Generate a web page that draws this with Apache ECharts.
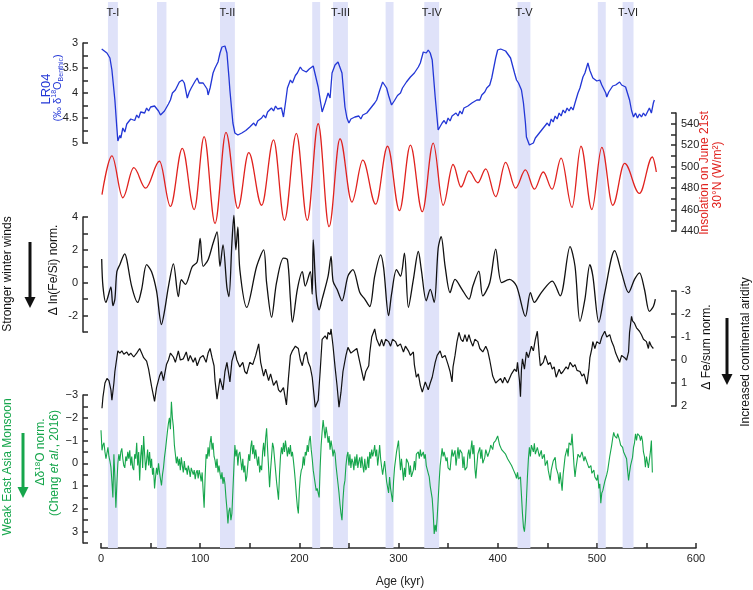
<!DOCTYPE html>
<html><head><meta charset="utf-8">
<script src="https://cdn.jsdelivr.net/npm/echarts@6/dist/echarts.min.js"></script>
<style>html,body{margin:0;padding:0;background:#fff}#c{width:753px;height:590px}</style>
</head><body><div id="c"></div>
<script>
// ---- data (age kyr, value) ----
const bandStart = [7, 56.5, 120, 213, 234, 287, 326, 420, 501, 526];
const bandEnd   = [17, 66, 135, 221, 249, 295, 341, 433, 509, 537];
const bandLabel = ['T-I', '', 'T-II', '', 'T-III', '', 'T-IV', 'T-V', '', 'T-VI'];

const lr04 = [[0.7,3.12],[6,3.2],[9,3.3],[11,3.54],[14,4.14],[16,4.7],[17,4.96],[19,4.85],[20,4.9],[22,4.7],[24,4.78],[26,4.62],[28,4.66],[30,4.52],[32,4.48],[34,4.55],[36,4.44],[38,4.5],[40,4.38],[42,4.34],[44,4.4],[46,4.3],[48,4.36],[50,4.28],[52,4.3],[54,4.26],[56,4.28],[58,4.36],[60,4.44],[62,4.48],[64,4.36],[66,4.4],[68,4.22],[70,4.14],[72,4.0],[74,4.04],[75,3.94],[77,3.9],[79,3.78],[82,3.74],[84,3.8],[86,4.0],[87,4.1],[89,3.98],[91,3.9],[93,3.88],[95,3.76],[97,3.7],[99,3.8],[101,3.76],[103,3.8],[105,3.86],[107,3.92],[108,4.04],[110,3.9],[112,3.7],[113,3.6],[115,3.5],[118,3.38],[120,3.2],[122,3.08],[125,3.06],[127,3.2],[129,3.68],[130,3.95],[133,4.6],[135,4.8],[138,4.84],[140,4.88],[142,4.8],[144,4.84],[146,4.75],[148,4.78],[150,4.68],[152,4.72],[154,4.6],[156,4.66],[158,4.56],[160,4.6],[162,4.5],[164,4.44],[166,4.5],[168,4.38],[170,4.42],[172,4.3],[174,4.36],[176,4.26],[178,4.32],[180,4.35],[182,4.3],[184,4.48],[186,4.2],[188,3.9],[191,3.74],[193,3.8],[196,3.65],[198,3.6],[201,3.48],[203,3.54],[205,3.5],[207,3.58],[210,3.52],[212,3.5],[214,3.46],[216,3.44],[219,3.88],[223,4.38],[226,4.2],[229,4.0],[231,4.1],[233,3.6],[236,3.44],[239,3.38],[243,3.6],[246,4.28],[248,4.5],[250,4.6],[252,4.52],[254,4.56],[256,4.48],[258,4.52],[260,4.46],[262,4.52],[264,4.44],[266,4.48],[268,4.4],[270,4.36],[272,4.3],[274,4.28],[276,4.2],[278,4.14],[281,3.95],[284,3.78],[286,3.82],[288,3.9],[290,4.05],[293,4.24],[296,4.15],[299,4.05],[302,4.0],[304,3.9],[306,3.94],[308,3.78],[310,3.82],[312,3.68],[314,3.72],[316,3.6],[318,3.62],[320,3.48],[322,3.4],[325,3.18],[328,3.2],[330,3.14],[332,3.2],[334,3.34],[337,4.08],[340,4.74],[342,4.74],[344,4.6],[346,4.55],[348,4.62],[350,4.5],[352,4.56],[354,4.46],[356,4.5],[358,4.4],[360,4.46],[362,4.36],[364,4.42],[366,4.3],[368,4.34],[370,4.26],[372,4.3],[374,4.2],[376,4.24],[379,4.14],[382,4.14],[384,4.04],[387,3.98],[389,3.9],[392,3.84],[394,3.7],[396,3.5],[398,3.3],[400,3.14],[403,3.12],[405,3.08],[408,3.16],[410,3.14],[413,3.3],[415,3.45],[417,3.6],[419,3.74],[421,3.8],[424,3.94],[426,4.2],[428,4.6],[429,4.88],[432,5.04],[434,5.02],[436,5.0],[438,4.9],[440,4.94],[442,4.8],[444,4.84],[446,4.7],[448,4.74],[450,4.6],[452,4.66],[454,4.52],[456,4.58],[458,4.46],[460,4.52],[462,4.4],[464,4.46],[466,4.34],[468,4.4],[470,4.3],[472,4.36],[474,4.28],[476,4.34],[478,4.2],[481,4.0],[483,3.9],[486,3.68],[488,3.6],[491,3.4],[493,3.55],[496,3.7],[498,3.66],[500,3.76],[503,3.74],[505,3.84],[507,3.85],[509,4.0],[510,4.08],[512,3.98],[514,3.95],[516,3.86],[517,3.9],[519,3.84],[521,3.8],[523,3.78],[525,3.84],[527,3.8],[529,3.88],[531,3.9],[533,4.14],[535,4.35],[537,4.48],[539,4.4],[541,4.5],[543,4.42],[545,4.48],[547,4.4],[549,4.46],[551,4.38],[553,4.3],[555,4.4],[557,4.2],[558,4.14]];

const insolation = [[1,474],[11,510],[22,471],[33,499],[45,480],[59,505],[70,463],[82,517],[94,460],[104,528],[115,447],[126,532],[138,461],[149,513],[162,464],[174,525],[185,450],[197,531],[208,450],[219,540],[230,444],[241,526],[253,467],[264,506],[277,465],[289,519],[301,459],[312,520],[324,458],[335,522],[345,464],[355,502],[363,481],[371,496],[380,485],[388,498],[398,472],[408,504],[418,480],[428,497],[437,479],[446,495],[455,479],[464,508],[475,462],[484,519],[495,460],[505,518],[516,464],[528,503],[543,475],[556,509],[560,495]];

const feSi = [[0.7,1.45],[2,-0.24],[5,-1.2],[7,-0.85],[10,-0.25],[12,-1.4],[14,-1.0],[16,0.67],[19,1.1],[24,1.76],[26,1.4],[31,-0.24],[37,-1.2],[41,-0.4],[46,1.1],[51,0.67],[56,-0.5],[61,-2.55],[64,-1.75],[68,-0.24],[73,1.15],[78,-0.85],[81,0.18],[85,-0.1],[92,0.97],[97,1.27],[100,2.7],[103,1.0],[108,1.4],[113,2.4],[117,3.1],[120,1.0],[123,2.3],[127,-0.3],[129,-0.85],[132,2.4],[134,4.1],[136,2.0],[138,3.4],[140,0.8],[147,-1.5],[157,1.0],[164,2.0],[167,0],[172,-2.1],[177,0],[184,1.5],[188,1.4],[191,-1.0],[193,-2.4],[198,-0.4],[203,0.67],[206,-0.2],[211,0.67],[213,-0.7],[214,2.6],[217,-0.7],[220,-1.65],[223,-1.0],[229,0.4],[232,1.6],[234,0.1],[238,-0.4],[243,-1.1],[249,0.4],[254,0.8],[261,-0.6],[266,-1.0],[271,-1.45],[276,0.4],[282,1.7],[285,0.9],[290,-2.0],[293,-0.7],[298,0.8],[302,0.4],[306,1.8],[310,-1.5],[315,0.2],[320,1.9],[323,0.8],[328,-1.1],[332,-0.4],[336,-1.2],[340,2.1],[343,2.8],[347,1.0],[352,-0.6],[357,0.2],[364,-0.4],[371,-1.0],[375,-0.2],[381,0.7],[385,-0.8],[392,0],[398,2.05],[404,0],[412,0.2],[419,-0.2],[428,-2.05],[433,-0.6],[437,-1.2],[444,-0.6],[455,0.1],[463,-0.8],[473,2.2],[478,1.0],[483,-2.35],[488,-1.0],[493,1.1],[496,0.4],[502,-2.4],[508,-0.6],[518,1.95],[525,0.6],[532,-0.6],[538,0.2],[543,0.6],[548,-0.4],[553,-1.75],[557,-1.45],[559,-1.0]];

const feSum = [[1,2.1],[2,1.6],[4,1.0],[6,0.8],[8,0.9],[10,1.3],[11,1.75],[13,1.0],[14,0.5],[16,-0.1],[17,-0.4],[19,-0.3],[21,-0.4],[23,-0.25],[26,-0.35],[28,-0.2],[30,-0.3],[33,-0.13],[36,-0.3],[39,-0.5],[41,-0.3],[43,-0.1],[46,0.05],[48,0.4],[51,1.15],[54,1.8],[56,1.2],[59,0.7],[61,0.5],[63,0.9],[66,0.2],[68,0.0],[70,-0.3],[73,-0.13],[75,0.1],[78,-0.4],[80,0.0],[83,-0.05],[86,-0.35],[88,0.05],[90,-0.2],[93,0.1],[95,-0.1],[97,0.25],[100,-0.1],[103,-0.2],[106,0.1],[108,-0.3],[110,-0.5],[112,-0.1],[114,0.25],[115,0.9],[117,1.7],[120,0.8],[123,1.3],[125,0.5],[127,0.1],[130,0.95],[132,0.05],[135,-0.4],[137,0.0],[140,0.3],[143,0.1],[145,0.5],[147,0.6],[150,0.1],[153,0.2],[156,-0.2],[159,-0.7],[161,0.1],[164,0.7],[166,0.4],[169,0.9],[171,0.6],[174,1.1],[177,0.9],[179,1.3],[181,1.4],[184,1.2],[187,1.95],[189,0.8],[191,-0.2],[193,-0.4],[196,-0.6],[199,-0.5],[201,0.0],[203,0.25],[205,-0.2],[207,-0.35],[209,0.1],[211,0.3],[213,0.75],[216,2.05],[219,1.75],[221,0.5],[223,-0.9],[226,-1.05],[228,-0.9],[229,-1.2],[231,-1.1],[232,-1.35],[234,-0.6],[236,0.3],[238,1.1],[240,2.05],[242,1.4],[244,0.5],[247,-0.2],[249,-0.55],[252,-0.3],[255,-0.4],[258,-0.5],[261,0.1],[263,0.5],[265,0.9],[267,0.5],[270,0.25],[271,-0.3],[273,-1.0],[276,-1.35],[278,-0.9],[281,-0.6],[283,-0.9],[285,-0.6],[287,-0.9],[290,-0.8],[292,-0.6],[294,-0.9],[297,-0.8],[299,-0.6],[302,-0.7],[305,-0.35],[307,-0.6],[310,-0.4],[312,-0.2],[315,-0.35],[316,0.2],[318,0.75],[320,0.6],[322,1.1],[324,1.4],[327,0.95],[330,1.3],[332,1.0],[334,0.75],[337,0.1],[339,-0.2],[342,-0.4],[344,-0.1],[347,-0.2],[350,0.2],[352,0.5],[354,0.95],[355,0.3],[357,-0.2],[359,-0.8],[361,-1.2],[363,-0.9],[365,-0.8],[367,-1.1],[369,-0.8],[371,-1.1],[373,-0.8],[375,-0.6],[377,-0.9],[380,-0.8],[382,-0.5],[385,-0.35],[388,-0.6],[390,-0.4],[392,0.0],[395,0.7],[398,1.0],[400,1.05],[403,0.8],[405,1.0],[407,0.75],[410,1.0],[412,0.95],[414,0.6],[417,0.4],[419,0.5],[420,0.1],[422,0.9],[423,1.6],[424,0.4],[425,-0.05],[427,0.4],[429,-0.35],[431,-0.1],[434,-0.6],[436,-0.4],[438,-0.9],[440,-1.25],[442,-0.2],[443,0.25],[446,0.1],[448,-0.2],[451,0.2],[453,0.1],[455,0.4],[457,0.3],[459,0.75],[462,0.4],[464,0.6],[466,0.5],[469,0.3],[471,0.4],[473,0.1],[476,0.3],[478,0.2],[480,0.45],[483,0.5],[485,0.7],[487,0.6],[490,1.05],[492,0.4],[493,-0.1],[495,-0.5],[496,-0.8],[498,-0.5],[500,-0.8],[503,-0.7],[505,-1.0],[508,-1.25],[510,-1.0],[513,-1.1],[515,-0.8],[517,-0.6],[519,-0.3],[521,-0.1],[523,0.1],[525,-0.2],[528,-0.1],[530,0.0],[532,-0.35],[533,-1.2],[535,-1.9],[536,-1.7],[538,-1.6],[540,-1.4],[543,-1.25],[545,-1.1],[547,-0.9],[550,-0.8],[552,-0.5],[553,-0.8],[555,-0.6],[557,-0.5]];

const d18O = [[0,-1.45],[1,-0.57],[2,-0.8],[3,-0.9],[4,-0.5],[5,-0.2],[6,-0.45],[7,-0.7],[8,-0.3],[9,-0.1],[10,0.17],[11,0.8],[12,1.5],[13,-0.4],[14,0.6],[15,1.95],[16,0.9],[17,0],[18,-0.4],[19,-0.1],[20,-0.5],[21,-0.66],[22,-0.2],[23,0.1],[24,0.2],[25,-0.3],[26,-0.1],[27,-0.5],[28,-0.2],[29,-0.57],[30,0.1],[31,-0.3],[32,0.2],[33,0.3],[34,-0.4],[35,-0.2],[36,-0.9],[37,0.1],[38,-0.5],[39,0.75],[40,-0.3],[41,-0.8],[42,0.2],[43,-1.2],[44,-0.4],[45,0.3],[46,-0.13],[47,-0.6],[48,0.1],[49,-0.5],[50,0.2],[51,-0.2],[52,0.5],[53,0.2],[54,1.1],[55,0.6],[56,0.2],[57,0.5],[58,0],[59,0.4],[60,0.7],[61,0.97],[62,0.5],[63,0.2],[64,-0.26],[65,-0.6],[66,-1.0],[67,-1.4],[68,-1.76],[69,-2.0],[70,-1.5],[71,-2.7],[72,-2.0],[73,-1.6],[74,-0.8],[75,-0.4],[76,0],[77,-0.3],[78,0.1],[79,-0.2],[80,0.3],[81,-0.26],[82,0.1],[83,0.4],[84,-0.1],[85,0.3],[86,0.2],[87,0.5],[88,0.1],[89,0.3],[90,0.6],[91,0.2],[92,0.17],[93,0.5],[94,0.3],[95,0.7],[96,0.4],[97,0.3],[98,0.66],[99,0.3],[100,0.5],[101,0.8],[102,0.4],[103,1.2],[104,1.95],[105,0.6],[106,-0.4],[107,-0.2],[108,-0.7],[109,-0.3],[110,-0.9],[111,-1.2],[112,-0.6],[113,-0.9],[114,-0.3],[115,-0.13],[116,0.2],[117,-0.2],[118,0.4],[119,0.1],[120,0.44],[121,0.7],[122,0.4],[123,0.9],[124,0.6],[125,0.9],[126,1.5],[127,2.0],[128,2.64],[129,2.1],[130,1.95],[131,2.5],[132,2.2],[133,1.2],[134,0.2],[135,-0.8],[136,-0.3],[137,-0.6],[138,0.1],[139,-0.4],[140,-0.5],[141,-0.1],[142,0.3],[143,-0.2],[144,0.4],[145,0.1],[146,0.8],[147,0.6],[148,0.1],[149,-0.4],[150,-0.1],[151,-0.7],[152,-1.0],[153,-0.4],[154,-0.8],[155,-0.2],[156,-0.6],[157,-0.57],[158,0.1],[159,-0.3],[160,0.4],[161,0.1],[162,0.3],[163,-0.5],[164,-0.9],[165,-0.3],[166,-1.1],[167,-1.54],[168,-0.6],[169,0.2],[170,1.05],[171,0.3],[172,-0.3],[173,-0.9],[174,-0.7],[175,-0.2],[176,0.3],[177,0.8],[178,1.2],[179,1.6],[180,0.5],[181,-0.3],[182,-0.7],[183,-0.4],[184,-0.9],[185,-0.5],[186,-1.0],[187,-0.66],[188,-0.3],[189,-0.7],[190,-0.4],[191,-0.8],[192,-0.3],[193,-0.5],[194,-0.13],[195,0.3],[196,0.8],[197,1.4],[198,1.9],[199,2.2],[200,1.2],[201,0.6],[202,0.3],[203,0.2],[204,-0.3],[205,0.1],[206,-0.5],[207,-0.35],[208,-0.8],[209,-0.5],[210,-1.0],[211,-1.2],[212,-0.6],[213,-0.2],[214,0.3],[215,0.6],[216,0.9],[217,1.2],[218,1.1],[219,1.3],[220,1.5],[221,0.17],[222,-0.8],[223,-1.4],[224,-1.9],[225,-1.5],[226,-1.1],[227,-1.6],[228,-1.3],[229,-0.9],[230,-1.2],[231,-0.6],[232,-1.0],[233,-0.7],[234,-0.3],[235,-0.6],[236,-0.44],[237,0.1],[238,0.5],[239,0.9],[240,1.3],[241,1.8],[242,2.2],[243,2.5],[244,1.6],[245,1.0],[246,0.75],[247,0.1],[248,-0.3],[249,-0.5],[250,0.1],[251,-0.4],[252,0.2],[253,-0.2],[254,-0.05],[255,0.3],[256,-0.3],[257,0.1],[258,-0.4],[259,0.2],[260,-0.1],[261,-0.26],[262,0.2],[263,-0.3],[264,0.1],[265,0.4],[266,-0.2],[267,0.3],[268,0.17],[269,-0.3],[270,0.2],[271,-0.5],[272,-0.2],[273,-0.6],[274,-0.3],[275,-0.5],[276,-0.8],[277,-0.3],[278,-0.6],[279,0.1],[280,-0.3],[281,-0.8],[282,-0.2],[283,0.17],[284,0.5],[286,-0.1],[288,0.8],[290,1.3],[291,0.6],[292,1.1],[294,1.7],[295,0.8],[296,0.2],[298,-0.5],[300,-1.0],[301,-0.3],[302,0.3],[303,-0.2],[305,0.75],[306,0.2],[307,0.6],[308,-0.2],[310,0],[311,0.5],[312,0.1],[313,0.6],[315,0.3],[316,-0.1],[317,0.3],[318,-0.4],[320,-0.5],[321,-0.2],[322,-0.6],[323,-0.3],[325,-0.5],[326,-0.2],[327,-0.4],[328,0.1],[330,0.44],[331,0.6],[332,1.0],[334,1.55],[335,2.2],[336,3.1],[337,2.7],[338,3.0],[339,2.4],[340,1.6],[341,0.8],[342,0.1],[344,-0.66],[345,-0.3],[346,-0.5],[348,-0.1],[349,-0.26],[350,0.2],[352,0.3],[353,-0.2],[354,-0.6],[355,-0.3],[357,-0.57],[358,0.1],[359,-0.3],[360,-0.7],[361,-0.2],[362,-0.6],[364,-0.44],[365,0.2],[366,-0.3],[367,0.3],[369,0.17],[370,-0.4],[371,-0.6],[372,-0.2],[374,-1.0],[375,-0.4],[376,-0.8],[377,0.2],[378,0.66],[379,0.1],[380,-0.4],[382,-0.7],[383,-0.2],[384,-0.6],[385,0.0],[387,-0.26],[388,-0.6],[390,-0.3],[392,-0.57],[393,-0.8],[395,-0.6],[396,-0.9],[398,-1.0],[400,-1.2],[401,-1.0],[402,-0.8],[404,-0.6],[406,-0.57],[408,-0.4],[410,-0.2],[412,-0.13],[414,0.1],[416,0.3],[418,0.5],[419,0.66],[420,0.4],[421,0.7],[423,0.6],[424,1.4],[425,2.2],[426,2.8],[427,3.0],[428,2.5],[429,1.6],[430,0.6],[431,-0.2],[432,-0.7],[433,-0.3],[434,-0.8],[436,-0.5],[437,-0.88],[438,-0.4],[440,-0.7],[442,-0.3],[444,-0.57],[445,-0.2],[447,-0.4],[448,0.1],[450,-0.13],[451,0.3],[453,0.75],[454,0.3],[456,-0.1],[458,-0.26],[459,0.2],[461,0.5],[462,0.9],[463,0.4],[465,1.2],[466,0.5],[467,0.1],[468,-0.3],[470,-0.66],[471,-0.3],[472,-0.9],[474,-0.8],[475,-1.3],[476,-0.6],[477,0.1],[478,0.6],[479,0.2],[481,-0.4],[483,-0.26],[485,-0.5],[487,-0.1],[488,-0.3],[490,-0.05],[492,0.2],[494,0.1],[495,0.44],[497,0.3],[498,0.6],[500,0.75],[501,0.5],[502,1.1],[503,0.9],[504,1.75],[505,1.3],[506,1.2],[508,0.8],[510,0.5],[511,0.3],[513,-0.3],[515,-0.8],[516,-1.1],[517,-1.36],[518,-1.2],[520,-1.1],[521,-1.3],[523,-1.0],[524,-0.8],[526,-0.7],[527,-0.5],[529,-0.44],[530,-0.2],[531,0.3],[532,0.75],[533,0.4],[534,0.1],[536,-0.26],[537,-0.7],[538,-0.9],[539,-1.3],[540,-1.0],[541,-1.3],[543,-1.2],[544,-1.0],[545,-1.2],[546,-1.0],[547,-0.5],[548,-0.3],[549,0.17],[550,-0.3],[551,-0.26],[552,0.2],[553,0.17],[554,-0.5],[555,-1.0],[556,0.4]];

const xTicks = [0, 100, 200, 300, 400, 500, 600];

// ---- chart ----
const FONT = '"Liberation Sans", Arial, sans-serif';
const BLUE = '#2236d6', RED = '#e0221e', GREEN = '#16a64c', BLACK = '#111111', AX = '#2a2a2a';
const L = 101, R = 57;
const grids = [
  { left: L, right: R, top: 43, height: 100 },
  { left: L, right: R, top: 113, height: 118 },
  { left: L, right: R, top: 217, height: 115 },
  { left: L, right: R, top: 291, height: 115 },
  { left: L, right: R, top: 395, height: 148 },
  { left: L, right: R, top: 2, height: 546 }
];
const xAxes = grids.map((g, i) => ({
  gridIndex: i, type: 'value', min: 0, max: 600, interval: 50,
  show: i === 4, offset: 5,
  axisLine: { onZero: false, lineStyle: { color: AX, width: 1.5 } },
  axisTick: { inside: true, length: 5, lineStyle: { color: AX, width: 1.5 } },
  axisLabel: { margin: 5, fontSize: 11, color: '#222', fontFamily: FONT,
    formatter: v => xTicks.indexOf(v) >= 0 ? String(v) : '' },
  splitLine: { show: false }
}));
function yAx(o) {
  return Object.assign({
    type: 'value', splitLine: { show: false },
    axisLine: { show: true, onZero: false, lineStyle: { color: AX, width: 1.5 } },
    axisTick: { show: true, inside: true, length: 5, lineStyle: { color: AX, width: 1.5 } },
    axisLabel: { margin: 5, fontSize: 11, color: '#222', fontFamily: FONT, hideOverlap: false }
  }, o);
}
function lab(fmt) {
  return { margin: 5, fontSize: 11, color: '#222', fontFamily: FONT, hideOverlap: false, formatter: fmt };
}
const yAxes = [
  yAx({ gridIndex: 0, min: 3, max: 5, inverse: true, interval: 0.25, position: 'left', offset: 18,
    axisLabel: lab(v => (Math.round(v * 4) % 2 === 0) ? String(v) : '') }),
  yAx({ gridIndex: 1, min: 440, max: 550, interval: 10, position: 'right', offset: -20,
    axisLabel: lab(v => ((v - 440) % 20 === 0 && v < 550) ? String(v) : '') }),
  yAx({ gridIndex: 2, min: -3, max: 4, interval: 1, position: 'left', offset: 18,
    axisLabel: lab(v => (v % 2 === 0) ? String(v) : '') }),
  yAx({ gridIndex: 3, min: -3, max: 2, inverse: true, interval: 1, position: 'right', offset: -20,
    axisLabel: lab(v => String(v)) }),
  yAx({ gridIndex: 4, min: -3, max: 3.5, inverse: true, interval: 0.5, position: 'left', offset: 18,
    axisLabel: lab(v => Number.isInteger(v) ? (v < 0 ? '\u2212' + (-v) : String(v)) : '') }),
  { gridIndex: 5, type: 'value', min: 0, max: 1, show: false }
];

function lineSeries(idx, data, color, extra) {
  return Object.assign({
    type: 'line', xAxisIndex: idx, yAxisIndex: idx, data: data,
    showSymbol: false, clip: false, z: 3,
    lineStyle: { color: color, width: 1.3 }
  }, extra || {});
}

const series = [
  {
    type: 'line', xAxisIndex: 5, yAxisIndex: 5, data: [[0, 0]], showSymbol: false,
    lineStyle: { opacity: 0 }, z: 1, silent: true,
    markArea: {
      silent: true,
      itemStyle: { color: '#dfe2f9' },
      label: { show: true, position: 'insideTop', distance: 5, color: '#222', fontSize: 11, fontFamily: FONT },
      data: bandStart.map((s, i) => [{ xAxis: s, name: bandLabel[i] }, { xAxis: bandEnd[i] }])
    }
  },
  lineSeries(0, lr04, BLUE),
  lineSeries(1, insolation, RED, { smooth: 0.36, smoothMonotone: 'x' }),
  lineSeries(2, feSi, BLACK, { smooth: 0.3 }),
  lineSeries(3, feSum, BLACK, { lineStyle: { color: BLACK, width: 1.2 } }),
  lineSeries(4, d18O, GREEN, { lineStyle: { color: GREEN, width: 1.1 } })
];

function vText(x, y, text, color, size, rich) {
  return {
    type: 'text', x: x, y: y, rotation: Math.PI / 2, z: 10,
    style: { text: text, fill: color, fontSize: size, fontFamily: FONT,
      align: 'center', verticalAlign: 'middle', rich: rich || {} }
  };
}
function arrow(x, y1, y2, color) {
  return {
    type: 'group', z: 10, children: [
      { type: 'line', shape: { x1: x, y1: y1, x2: x, y2: y2 - 9 }, style: { stroke: color, lineWidth: 3 } },
      { type: 'polygon', shape: { points: [[x - 5.5, y2 - 11], [x + 5.5, y2 - 11], [x, y2]] }, style: { fill: color } }
    ]
  };
}
const supS = { fontSize: 7, verticalAlign: 'top', lineHeight: 14 };
const subS = { fontSize: 7, verticalAlign: 'bottom', lineHeight: 14 };
const graphic = [
  vText(46, 89, 'LR04', BLUE, 13),
  vText(58, 88, '{n|(\u2030 \u03b4}{s|18}{n|O}{b|Benthic}{n|)}', BLUE, 11,
    { n: { fontSize: 11, lineHeight: 14, fill: BLUE }, s: Object.assign({ fill: BLUE }, supS), b: Object.assign({ fill: BLUE }, subS) }),
  vText(705, 173, 'Insolation on June 21st', RED, 12),
  vText(718, 175, '30\u00b0N (W/m\u00b2)', RED, 12),
  vText(8, 274, 'Stronger winter winds', BLACK, 12),
  arrow(30, 242, 308, BLACK),
  vText(54, 270, '\u0394 ln(Fe/Si) norm.', BLACK, 12),
  vText(707, 347, '\u0394 Fe/sum norm.', BLACK, 12),
  arrow(727, 318, 385, BLACK),
  vText(746, 352, 'Increased continental aridity', BLACK, 12),
  vText(8, 467, 'Weak East Asia Monsoon', GREEN, 12),
  arrow(23, 433, 498, GREEN),
  vText(41, 452, '{n|\u0394\u03b4}{s|18}{n|O norm.}', GREEN, 12,
    { n: { fontSize: 12, lineHeight: 15, fill: GREEN }, s: { fontSize: 8, verticalAlign: 'top', lineHeight: 15, fill: GREEN } }),
  vText(55, 463, '{n|(Cheng }{i|et al.}{n|, 2016)}', GREEN, 12,
    { n: { fontSize: 12, fill: GREEN }, i: { fontSize: 12, fontStyle: 'italic', fill: GREEN } }),
  { type: 'text', x: 400, y: 582, z: 10,
    style: { text: 'Age (kyr)', fill: '#222', fontSize: 12, fontFamily: FONT, align: 'center', verticalAlign: 'middle' } }
];

const chart = echarts.init(document.getElementById('c'));
chart.setOption({
  animation: false,
  backgroundColor: '#ffffff',
  textStyle: { fontFamily: FONT },
  grid: grids, xAxis: xAxes, yAxis: yAxes, series: series, graphic: graphic
});
</script>
</body></html>
